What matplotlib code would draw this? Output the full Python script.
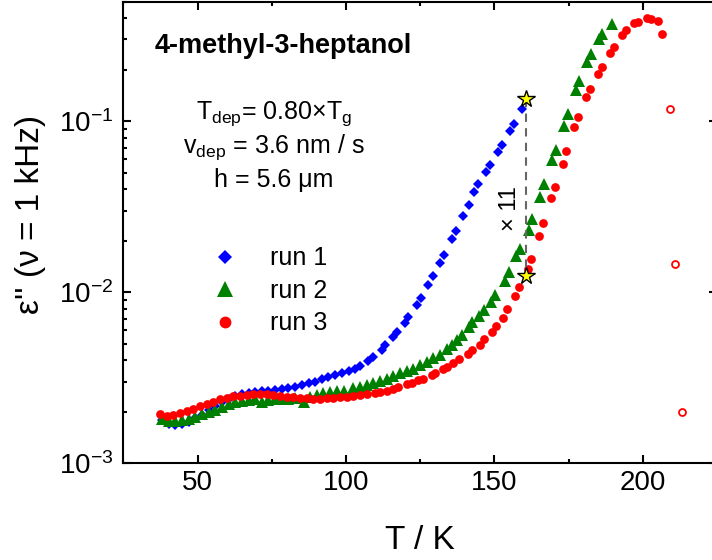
import matplotlib
matplotlib.use('Agg')
import matplotlib.pyplot as plt
from matplotlib.ticker import MultipleLocator, LogLocator, NullFormatter

plt.rcParams['font.family'] = ['Liberation Sans', 'DejaVu Sans']
plt.rcParams['mathtext.fontset'] = 'custom'
plt.rcParams['mathtext.rm'] = 'Liberation Sans'
plt.rcParams['mathtext.it'] = 'Liberation Sans:italic'
plt.rcParams['mathtext.default'] = 'regular'

# run 1 (blue diamonds)
T1 = [38.0, 40.3, 42.5, 44.7, 47.0, 49.2, 51.5, 53.7, 56.0, 58.2, 60.5, 62.7,
      64.9, 67.2, 69.4, 71.7, 73.9, 76.2, 78.4, 80.6, 82.9, 85.1, 87.4, 89.6,
      91.9, 94.1, 96.4, 98.6, 100.9, 103.0, 104.7, 107.5, 109.0, 112.0, 113.1,
      115.7, 117.1, 119.9, 121.0, 123.8, 125.2, 127.7, 129.2, 131.7, 133.0,
      135.6, 137.0, 139.5, 141.5, 143.2, 144.6, 147.1, 148.6, 151.3, 152.7,
      155.2, 156.6, 159.2]
eps1 = [1.79e-3, 1.70e-3, 1.67e-3, 1.70e-3, 1.75e-3, 1.83e-3, 1.91e-3, 2.05e-3,
        2.16e-3, 2.29e-3, 2.39e-3, 2.47e-3, 2.54e-3, 2.58e-3, 2.62e-3, 2.64e-3,
        2.65e-3, 2.68e-3, 2.70e-3, 2.74e-3, 2.80e-3, 2.86e-3, 2.93e-3, 2.99e-3,
        3.09e-3, 3.18e-3, 3.27e-3, 3.36e-3, 3.46e-3, 3.58e-3, 3.72e-3, 3.97e-3,
        4.20e-3, 4.58e-3, 4.91e-3, 5.48e-3, 5.86e-3, 6.6e-3, 7.2e-3, 8.4e-3,
        9.2e-3, 0.0110, 0.0124, 0.0148, 0.0164, 0.0205, 0.0228, 0.0280, 0.0322,
        0.0385, 0.0427, 0.0503, 0.0551, 0.0659, 0.0722, 0.0874, 0.0966, 0.118]

# run 2 (green triangles)
T2 = [38.0, 40.3, 42.5, 44.7, 47.0, 49.2, 51.5, 53.7, 56.0, 58.2, 60.5, 62.7,
      64.9, 67.2, 69.4, 71.7, 73.9, 76.2, 78.4, 80.6, 82.9, 85.7, 87.9, 90.2,
      92.4, 94.7, 96.9, 99.2, 102.5, 104.7, 107.0, 109.2, 111.5, 113.7, 115.9,
      118.2, 120.4, 122.7, 124.9, 127.2, 129.4, 131.7, 133.9, 135.6, 137.5,
      139.2, 141.3, 142.6, 144.9, 146.4, 149.0, 150.3, 153.6, 154.8, 157.4,
      158.5, 161.5, 162.8, 165.4, 166.7, 169.3, 170.7, 173.5, 174.8, 177.4,
      178.6, 181.3, 182.7, 185.3, 186.4, 189.5]
eps2 = [1.81e-3, 1.77e-3, 1.77e-3, 1.79e-3, 1.82e-3, 1.87e-3, 1.93e-3, 2.00e-3,
        2.06e-3, 2.14e-3, 2.21e-3, 2.27e-3, 2.31e-3, 2.34e-3, 2.36e-3, 2.29e-3,
        2.34e-3, 2.36e-3, 2.36e-3, 2.37e-3, 2.40e-3, 2.29e-3, 2.45e-3, 2.51e-3,
        2.56e-3, 2.60e-3, 2.63e-3, 2.66e-3, 2.74e-3, 2.80e-3, 2.87e-3, 2.96e-3,
        3.04e-3, 3.13e-3, 3.23e-3, 3.35e-3, 3.46e-3, 3.58e-3, 3.75e-3, 3.92e-3,
        4.10e-3, 4.29e-3, 4.63e-3, 4.91e-3, 5.25e-3, 5.61e-3, 6.22e-3, 6.71e-3,
        7.25e-3, 7.86e-3, 8.77e-3, 9.6e-3, 0.0117, 0.0131, 0.0162, 0.0178,
        0.0230, 0.0267, 0.0360, 0.0431, 0.0595, 0.0675, 0.0935, 0.110, 0.151,
        0.171, 0.221, 0.247, 0.303, 0.324, 0.371]

# run 3 (red circles)
T3 = [37.4, 39.6, 41.8, 44.1, 46.4, 48.6, 50.8, 53.1, 55.3, 57.6, 59.8, 62.0,
      64.3, 66.6, 68.8, 71.0, 73.3, 75.5, 77.8, 80.0, 82.3, 84.5, 86.8, 89.0,
      91.2, 93.5, 95.7, 98.0, 100.2, 102.5, 104.7, 107.0, 109.8, 111.5, 113.7,
      115.9, 117.6, 120.4, 122.1, 124.4, 126.0, 128.9, 130.0, 132.6, 133.9,
      136.0, 138.2, 141.2, 142.3, 145.1, 146.6, 149.1, 150.4, 152.9, 154.3,
      157.0, 158.3, 161.4, 162.3, 165.0, 166.3, 169.0, 170.3, 173.0, 174.2,
      176.9, 178.2, 181.0, 182.3, 185.0, 186.2, 189.0, 190.4, 193.1, 194.2,
      197.1, 198.4, 201.5, 202.7, 205.1, 206.4]
eps3 = [1.93e-3, 1.89e-3, 1.91e-3, 1.96e-3, 2.02e-3, 2.08e-3, 2.15e-3, 2.22e-3,
        2.29e-3, 2.36e-3, 2.42e-3, 2.46e-3, 2.49e-3, 2.51e-3, 2.54e-3, 2.55e-3,
        2.54e-3, 2.51e-3, 2.48e-3, 2.45e-3, 2.43e-3, 2.41e-3, 2.40e-3, 2.38e-3,
        2.38e-3, 2.40e-3, 2.41e-3, 2.43e-3, 2.43e-3, 2.47e-3, 2.51e-3, 2.54e-3,
        2.58e-3, 2.62e-3, 2.65e-3, 2.72e-3, 2.78e-3, 2.89e-3, 2.96e-3, 3.06e-3,
        3.13e-3, 3.27e-3, 3.35e-3, 3.58e-3, 3.67e-3, 3.85e-3, 4.05e-3, 4.35e-3,
        4.58e-3, 4.91e-3, 5.30e-3, 5.86e-3, 6.34e-3, 7.11e-3, 7.97e-3, 9.5e-3,
        0.0107, 0.0137, 0.0157, 0.0212, 0.0254, 0.0357, 0.0412, 0.0564, 0.0668,
        0.0922, 0.106, 0.138, 0.155, 0.189, 0.206, 0.249, 0.270, 0.319, 0.339,
        0.373, 0.382, 0.402, 0.393, 0.384, 0.324]

# run 3, last points (open circles)
T3_open = [209.2, 210.8, 213.2]
eps3_open = [0.118, 0.0146, 0.0020]

# stars marking the ratio at T = 160 K
T_star = [160.6, 160.6]
eps_star = [0.134, 0.0124]
ratio_label = '× 11'


fig = plt.figure(figsize=(7.12, 5.6), dpi=100)
ax = fig.add_axes([0.1732, 0.1727, 0.8339, 0.8246])

ax.plot(T1, eps1, 'D', color='#0000ff', ms=5.5, mew=0, label='run 1')
ax.plot(T2, eps2, '^', color='#008000', ms=8.5, mew=0, label='run 2')
ax.plot(T3, eps3, 'o', color='#ff0000', ms=6.3, mew=0, label='run 3')
ax.plot(T3_open, eps3_open, 'o', mfc='white', mec='#ff0000', ms=5, mew=1.3)

ax.plot(T_star, eps_star, ls='--', dashes=(4, 3), color='#666666', lw=1.5)
ax.plot(T_star, eps_star, '*', ls='none', mfc='#ffff00', mec='black', ms=13, mew=1)
ax.text(155.2, 0.031, ratio_label, rotation=90, ha='center', va='center', fontsize=17)

ax.set_yscale('log')
ax.set_xlim(25, 225)
ax.set_ylim(1e-3, 0.5)
ax.xaxis.set_major_locator(MultipleLocator(50))
ax.xaxis.set_minor_locator(MultipleLocator(25))
ax.yaxis.set_minor_locator(LogLocator(base=10, subs=range(2, 10)))
ax.yaxis.set_minor_formatter(NullFormatter())

ax.tick_params(which='both', direction='in', top=True, right=True, width=1.5, labelsize=20)
ax.tick_params(which='major', length=6)
ax.tick_params(which='minor', length=3)
ax.tick_params(axis='x', pad=5)
ax.tick_params(axis='y', pad=7)
for s in ax.spines.values():
    s.set_linewidth(1.5)

ax.set_xlabel('T / K', fontsize=24)
ax.xaxis.set_label_coords(0.5, -0.133)
ax.set_ylabel("ε'' (ν = 1 kHz)", fontsize=24)
ax.yaxis.set_label_coords(-0.13, 0.538)

ax.text(0.052, 0.888, '4-methyl-3-heptanol', transform=ax.transAxes,
        fontsize=19.5, fontweight='bold', va='baseline')
ax.text(0.254, 0.747, r'T$_{dep}$= 0.80×T$_{g}$', transform=ax.transAxes,
        fontsize=18, ha='center', va='baseline')
ax.text(0.254, 0.672, r'v$_{dep}$ = 3.6 nm / s', transform=ax.transAxes,
        fontsize=18, ha='center', va='baseline')
ax.text(0.254, 0.599, 'h = 5.6 μm', transform=ax.transAxes,
        fontsize=18, ha='center', va='baseline')

ax.legend(loc='upper left', bbox_to_anchor=(0.1376, 0.470), frameon=False,
          fontsize=18, handlelength=1.6, handletextpad=1.0, labelspacing=0.34,
          borderpad=0, borderaxespad=0, markerscale=1.35)

fig.savefig('out.png', dpi=100)
